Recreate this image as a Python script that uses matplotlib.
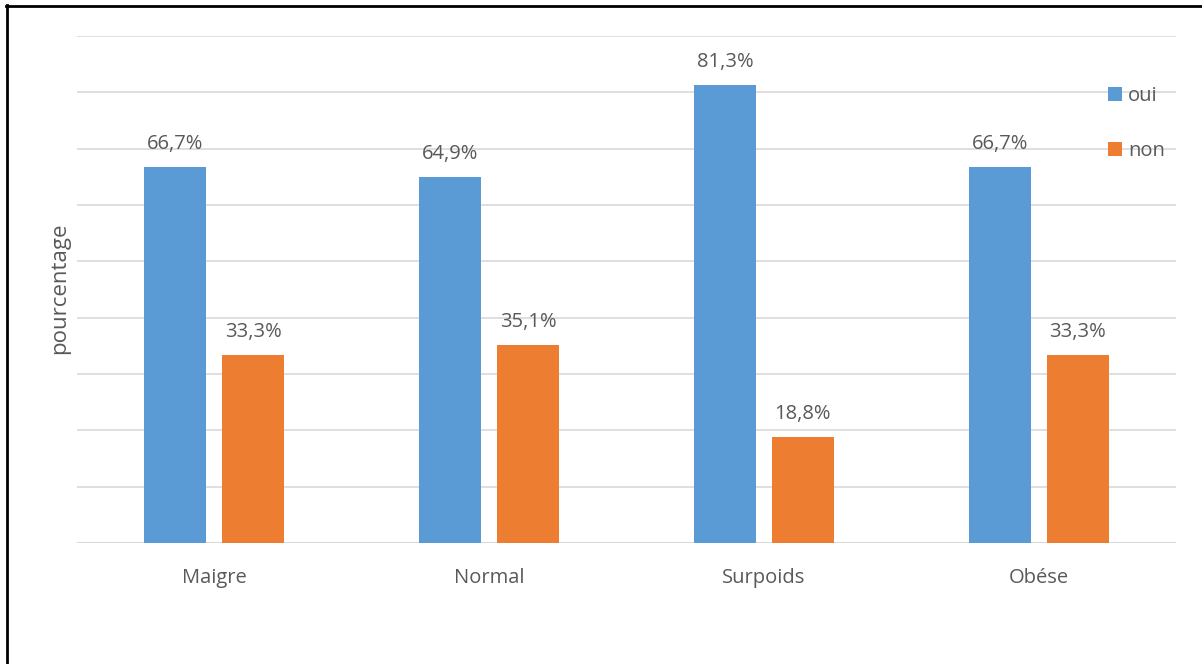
import matplotlib
import matplotlib.pyplot as plt
import numpy as np
from matplotlib.lines import Line2D

matplotlib.use('Agg')
plt.rcParams['font.family'] = ['Open Sans', 'DejaVu Sans']

categories = ['Maigre', 'Normal', 'Surpoids', 'Obése']
oui = [66.7, 64.9, 81.3, 66.7]
non = [33.3, 35.1, 18.8, 33.3]
series_names = ['oui', 'non']

BLUE = '#5B9BD5'
ORANGE = '#ED7D31'
TEXT = '#595959'


def fmt(v):
    return ('%.1f%%' % v).replace('.', ',')


def create_graphic():
    fig = plt.figure(figsize=(12.02, 6.64), dpi=100)
    ax = fig.add_axes([77 / 1202, 1 - 543 / 664, (1176 - 77) / 1202, (543 - 36) / 664])

    x = np.arange(len(categories))
    w = 0.226
    off = 0.142
    b1 = ax.bar(x - off, oui, w, color=BLUE, zorder=3, label=series_names[0])
    b2 = ax.bar(x + off, non, w, color=ORANGE, zorder=3, label=series_names[1])

    for bars, vals in ((b1, oui), (b2, non)):
        for b, v in zip(bars, vals):
            ax.annotate(fmt(v), (b.get_x() + b.get_width() / 2, v),
                        xytext=(0, 9.5), textcoords='offset points',
                        ha='center', va='bottom', fontsize=14.5, color=TEXT)

    ax.set_xlim(-0.5, len(categories) - 0.5)
    ax.set_ylim(0, 90)
    ax.set_yticks(np.arange(0, 91, 10))
    ax.yaxis.grid(True, color='#D9D9D9', linewidth=1.2, zorder=0)
    ax.tick_params(axis='y', length=0, labelleft=False)
    ax.tick_params(axis='x', length=0, pad=18, labelsize=14.5, labelcolor=TEXT)
    ax.set_xticks(x)
    ax.set_xticklabels(categories)
    for s in ax.spines.values():
        s.set_visible(False)
    ax.axhline(0, color='#D9D9D9', linewidth=1.5, zorder=2)

    fig.text(60 / 1202, 1 - 288 / 664, 'pourcentage', rotation=90,
             ha='center', va='center', fontsize=16, color=TEXT)

    leg = fig.legend(handles=[b1, b2], loc='upper left',
                     bbox_to_anchor=(1100 / 1202, 1 - 78 / 664),
                     frameon=False, fontsize=14.5, handlelength=0.7,
                     handleheight=0.7, handletextpad=0.3, labelspacing=1.75,
                     borderaxespad=0)
    for t in leg.get_texts():
        t.set_color(TEXT)

    # frame edges at the left and top of the picture
    fig.add_artist(Line2D([6.5 / 1202, 6.5 / 1202], [0, 1 - 5 / 664],
                          transform=fig.transFigure, color='black', lw=2))
    fig.add_artist(Line2D([6 / 1202, 1], [1 - 5.5 / 664, 1 - 5.5 / 664],
                          transform=fig.transFigure, color='black', lw=2))

    fig.savefig('out.png', dpi=100)


if __name__ == '__main__':
    create_graphic()
